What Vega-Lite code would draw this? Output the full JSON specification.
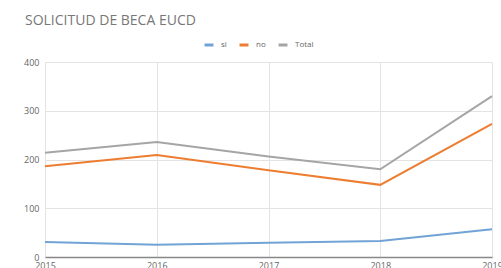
{
  "$schema": "https://vega.github.io/schema/vega-lite/v6.json",
  "autosize": {"type": "none"},
  "width": 447,
  "height": 195,
  "padding": {"left": 45, "top": 62, "right": 9, "bottom": 11},
  "background": "white",
  "title": {
    "text": "SOLICITUD DE BECA EUCD",
    "anchor": "start",
    "frame": "group",
    "dx": -20,
    "offset": 11,
    "font": "Open Sans",
    "fontSize": 14,
    "fontWeight": "normal",
    "color": "#777777"
  },
  "data": {
    "values": [
      {"year": "2015", "serie": "si", "value": 31},
      {"year": "2016", "serie": "si", "value": 25},
      {"year": "2017", "serie": "si", "value": 29},
      {"year": "2018", "serie": "si", "value": 33},
      {"year": "2019", "serie": "si", "value": 57},
      {"year": "2015", "serie": "no", "value": 186},
      {"year": "2016", "serie": "no", "value": 209},
      {"year": "2017", "serie": "no", "value": 178},
      {"year": "2018", "serie": "no", "value": 148},
      {"year": "2019", "serie": "no", "value": 273},
      {"year": "2015", "serie": "Total", "value": 214},
      {"year": "2016", "serie": "Total", "value": 236},
      {"year": "2017", "serie": "Total", "value": 206},
      {"year": "2018", "serie": "Total", "value": 180},
      {"year": "2019", "serie": "Total", "value": 330}
    ]
  },
  "mark": {"type": "line", "strokeWidth": 2},
  "encoding": {
    "x": {
      "field": "year",
      "type": "ordinal",
      "scale": {"type": "point", "padding": 0},
      "axis": {
        "title": null,
        "labelAngle": 0,
        "labelFont": "Open Sans",
        "labelFontSize": 9,
        "labelColor": "#666666",
        "labelPadding": 4,
        "ticks": false,
        "domainColor": "#888888",
        "domainWidth": 1.5,
        "grid": true,
        "gridColor": "#e3e3e3"
      }
    },
    "y": {
      "field": "value",
      "type": "quantitative",
      "scale": {"domain": [0, 400]},
      "axis": {
        "title": null,
        "values": [0, 100, 200, 300, 400],
        "labelOverlap": false,
        "labelFont": "Open Sans",
        "labelFontSize": 9,
        "labelColor": "#666666",
        "labelPadding": 6,
        "ticks": false,
        "domain": false,
        "gridColor": "#e3e3e3"
      }
    },
    "color": {
      "field": "serie",
      "type": "nominal",
      "sort": ["si", "no", "Total"],
      "scale": {"domain": ["si", "no", "Total"], "range": ["#72a3d6", "#ec7d31", "#a5a5a5"]},
      "legend": {
        "title": null,
        "orient": "none",
        "legendX": 158,
        "legendY": -23,
        "direction": "horizontal",
        "symbolType": "stroke",
        "symbolStrokeWidth": 3,
        "symbolSize": 80,
        "labelFont": "Open Sans",
        "labelFontSize": 8,
        "labelColor": "#666666",
        "columnPadding": 6,
        "labelOffset": 6
      }
    }
  },
  "config": {"view": {"stroke": null}}
}
